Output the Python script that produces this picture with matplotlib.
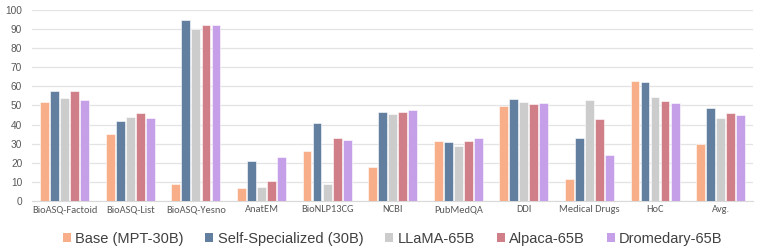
import numpy as np
import matplotlib
matplotlib.use("Agg")
import matplotlib.pyplot as plt
from matplotlib.patches import Patch

categories = ["BioASQ-Factoid", "BioASQ-List", "BioASQ-Yesno", "AnatEM", "BioNLP13CG",
              "NCBI", "PubMedQA", "DDI", "Medical Drugs", "HoC", "Avg."]
base = [52, 35, 9, 7, 26, 18, 31.5, 49.5, 11.5, 63, 30]
self_spec = [57.5, 42, 95, 21, 41, 46.5, 31, 53.5, 33, 62.5, 48.5]
llama = [54, 44, 90, 7.5, 9, 45.5, 29, 52, 53, 54.5, 43.5]
alpaca = [57.5, 46, 92, 10.5, 33, 46.5, 31.5, 50.5, 43, 52.5, 46]
dromedary = [53, 43.5, 92, 23, 32, 47.5, 33, 51.5, 24, 51.5, 45]

series = [base, self_spec, llama, alpaca, dromedary]
names = ["Base (MPT-30B)", "Self-Specialized (30B)", "LLaMA-65B", "Alpaca-65B", "Dromedary-65B"]
colors = ["#F9AE8A", "#627FA0", "#CCCCCC", "#D07E88", "#C5A0E8"]

tick_font = ['Carlito', 'Lato', 'DejaVu Sans']
num_font = ['Liberation Sans', 'DejaVu Sans']
legend_font = ['Liberation Sans', 'DejaVu Sans']

fig = plt.figure(figsize=(7.61, 2.49), dpi=100)
ax = fig.add_axes([0.042, 0.193, 0.948, 0.767])

x = np.arange(len(categories))
w = 0.135
step = 0.153
for i, (vals, c) in enumerate(zip(series, colors)):
    ax.bar(x + (i - 2) * step, vals, width=w, color=c, edgecolor="#FFFFFF", linewidth=0.4, zorder=3)

ax.set_xlim(-0.5, len(categories) - 0.5)
ax.set_ylim(0, 100)
ax.set_yticks(range(0, 101, 10))
ax.yaxis.grid(True, color="#E3E3E3", linewidth=0.9, zorder=0)
for s in ["top", "right", "left"]:
    ax.spines[s].set_visible(False)
ax.spines["bottom"].set_color("#D9D9D9")
ax.set_xticks(x)
ax.set_xticklabels(categories, family=tick_font, fontsize=7.5)
for t in ax.get_yticklabels():
    t.set_family(num_font)
    t.set_fontsize(7.3)
ax.tick_params(axis="both", length=0, colors="#595959")
ax.tick_params(axis="x", pad=3)
ax.tick_params(axis="y", pad=7)

handles = [Patch(facecolor=c, edgecolor="none") for c in colors]
fig.legend(handles, names, loc="center", bbox_to_anchor=(0.516, 0.04), ncol=5, frameon=False,
           prop={"family": legend_font, "size": 10.5}, handlelength=0.55, handleheight=0.55,
           handletextpad=0.3, columnspacing=1.5, labelcolor="#404040",
           borderpad=0, borderaxespad=0)

fig.savefig("out.png", dpi=100)
